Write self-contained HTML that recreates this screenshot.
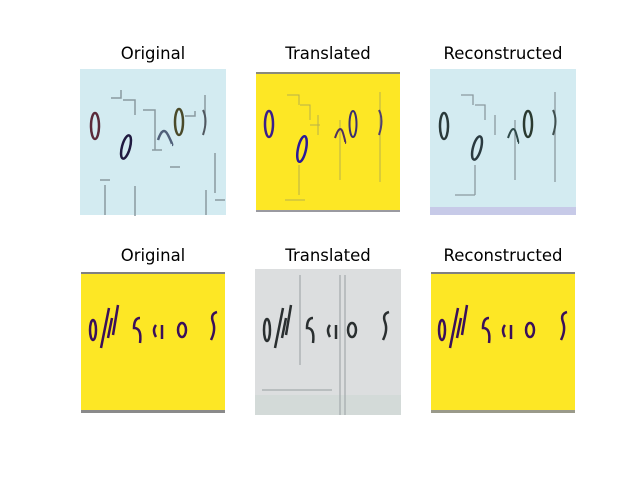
<!DOCTYPE html>
<html><head><meta charset="utf-8"><style>
body{margin:0;background:#fff;width:640px;height:480px;overflow:hidden}
svg{display:block}
text{font-family:"DejaVu Sans","Liberation Sans",sans-serif;font-size:16.5px;fill:#000}
</style></head><body>
<svg width="640" height="480">
<text x="153" y="59" text-anchor="middle">Original</text>
<text x="328" y="59" text-anchor="middle">Translated</text>
<text x="503" y="59" text-anchor="middle">Reconstructed</text>
<text x="153" y="261" text-anchor="middle">Original</text>
<text x="328" y="261" text-anchor="middle">Translated</text>
<text x="503" y="261" text-anchor="middle">Reconstructed</text>

<g>
<rect x="80" y="69" width="146" height="146" fill="#d3ebf1"/>
<g fill="none" stroke="#8a9aa0" stroke-width="1.5">
<path d="M111 98h10v-8 M123 100h12v15 M143 110h12v40 M152 150h10 M185 116h10v-5 M170 167h10 M105 185v30 M100 180h10 M135 186v30 M205 95v30 M215 153v40 M206 190v25 M215 200h10"/>
</g>
<ellipse cx="95" cy="126" rx="4" ry="13" fill="none" stroke="#5a2a3a" stroke-width="2.5"/>
<ellipse cx="126" cy="147" rx="4" ry="12" transform="rotate(15 126 147)" fill="none" stroke="#201a40" stroke-width="2.5"/>
<ellipse cx="179" cy="122" rx="4" ry="13" fill="none" stroke="#4a4a2a" stroke-width="2.5"/>
<path d="M158 140q5-15 10-5t4 10" fill="none" stroke="#50607a" stroke-width="2.5"/>
<path d="M203 110q5 10 0 25" fill="none" stroke="#505860" stroke-width="2"/>
</g>

<g>
<rect x="256" y="72" width="144" height="140" fill="#fde725"/>
<rect x="256" y="72" width="144" height="2" fill="#8a8a7a"/>
<rect x="256" y="210" width="144" height="2" fill="#9a9aa0"/>
<g fill="none" stroke="#b8b04a" stroke-width="1">
<path d="M287 95h12v10 M300 105h10v15 M318 115v20 M310 125h10 M299 165v30 M340 120v60 M380 92v90 M285 200h20"/>
</g>
<ellipse cx="269" cy="124" rx="4" ry="13" fill="none" stroke="#3a1e8c" stroke-width="2.5"/>
<ellipse cx="302" cy="149" rx="4" ry="13" transform="rotate(12 302 149)" fill="none" stroke="#2a1a9a" stroke-width="2.5"/>
<ellipse cx="353" cy="124" rx="3.5" ry="13" fill="none" stroke="#3a2e70" stroke-width="2"/>
<path d="M335 138q5-15 8-5t2 10" fill="none" stroke="#503060" stroke-width="2"/>
<path d="M379 110q5 10 0 25" fill="none" stroke="#504070" stroke-width="2"/>
</g>

<g>
<rect x="430" y="69" width="146" height="146" fill="#d3ebf1"/>
<rect x="430" y="207" width="146" height="8" fill="#c7cae8"/>
<g fill="none" stroke="#8a9aa0" stroke-width="1.3">
<path d="M461 95h12v10 M475 105h10v15 M495 115v20 M475 165v30 M515 120v60 M555 92v90 M455 195h20"/>
</g>
<ellipse cx="444" cy="126" rx="4" ry="13" fill="none" stroke="#2a3a3a" stroke-width="2.5"/>
<ellipse cx="477" cy="148" rx="4" ry="12" transform="rotate(15 477 148)" fill="none" stroke="#2a3a40" stroke-width="2.5"/>
<ellipse cx="528" cy="124" rx="4" ry="13" fill="none" stroke="#2a3a30" stroke-width="2.5"/>
<path d="M508 138q5-15 8-5t2 10" fill="none" stroke="#304a4a" stroke-width="2"/>
<path d="M553 110q5 10 0 25" fill="none" stroke="#405050" stroke-width="2"/>
</g>

<g>
<rect x="81" y="272" width="144" height="141" fill="#fde725"/>
<rect x="81" y="272" width="144" height="2" fill="#808080"/>
<rect x="81" y="410" width="144" height="3" fill="#8a8a8a"/>
<g fill="none" stroke="#3a0f5a" stroke-width="2.5">
<ellipse cx="93" cy="330" rx="3" ry="10"/>
<path d="M109 308l-8 40 M112 318l-4 20 M118 305l-5 30"/>
<path d="M140 318q-6 0-6 10 q8 0 6 15"/>
<path d="M156 325q-4 5 0 12 M162 325v14"/>
<ellipse cx="182" cy="330" rx="4" ry="7"/>
<path d="M217 312q-7 2-4 10t-2 18"/>
</g>
</g>

<g>
<rect x="255" y="269" width="146" height="146" fill="#dcdedf"/>
<rect x="255" y="395" width="146" height="20" fill="#d3dad8"/>
<g fill="none" stroke="#a4aaac" stroke-width="1.2">
<path d="M340 275v140 M345 275v140 M262 390h70 M300 275v90"/>
</g>
<g fill="none" stroke="#2a2f30" stroke-width="2.5">
<ellipse cx="267" cy="330" rx="3" ry="11"/>
<path d="M283 308l-8 40 M286 318l-4 20 M291 305l-5 30"/>
<path d="M313 318q-6 0-6 10 q8 0 6 15"/>
<path d="M330 325q-4 5 0 12 M336 325v14"/>
<ellipse cx="352" cy="330" rx="4" ry="7"/>
<path d="M389 312q-7 2-4 10t-2 18"/>
</g>
</g>

<g>
<rect x="431" y="272" width="144" height="141" fill="#fde725"/>
<rect x="431" y="272" width="144" height="2" fill="#808080"/>
<rect x="431" y="410" width="144" height="3" fill="#9a9a8a"/>
<g fill="none" stroke="#3a0f5a" stroke-width="2.5">
<ellipse cx="442" cy="330" rx="3" ry="10"/>
<path d="M458 308l-8 40 M461 318l-4 20 M467 305l-5 30"/>
<path d="M489 318q-6 0-6 10 q8 0 6 15"/>
<path d="M505 325q-4 5 0 12 M511 325v14"/>
<ellipse cx="530" cy="330" rx="4" ry="7"/>
<path d="M567 312q-7 2-4 10t-2 18"/>
</g>
</g>
</svg>
</body></html>
